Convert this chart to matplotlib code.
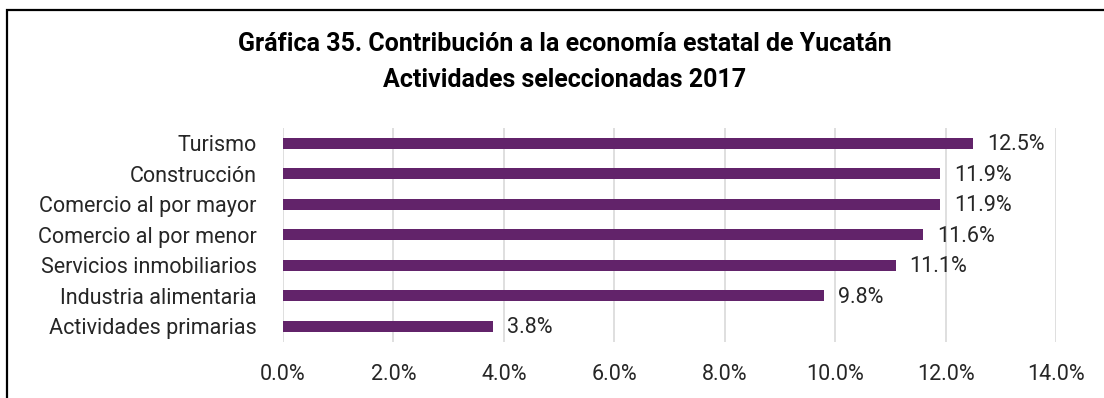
import matplotlib.pyplot as plt
from matplotlib.patches import Rectangle
from matplotlib.ticker import FuncFormatter

plt.rcParams['font.family'] = ['Roboto', 'DejaVu Sans']

actividades = ['Turismo', 'Construcción', 'Comercio al por mayor', 'Comercio al por menor',
               'Servicios inmobiliarios', 'Industria alimentaria', 'Actividades primarias']
contribucion = [12.5, 11.9, 11.9, 11.6, 11.1, 9.8, 3.8]
xticks = [0, 2, 4, 6, 8, 10, 12, 14]

purple = '#62236a'

fig = plt.figure(figsize=(11.04, 3.98), dpi=100)
# plot area in pixels: x 283..1056, y 128..341
ax = fig.add_axes([283 / 1104, 1 - 341.5 / 398, (1056 - 283) / 1104, (341.5 - 128) / 398])

pos = list(range(len(actividades)))
ax.barh(pos, contribucion, height=0.36, color=purple, zorder=3)
for p, v in zip(pos, contribucion):
    ax.text(v + 0.25, p + 0.05, f'{v:.1f}%', va='center', ha='left', fontsize=15.5, color='#262626')

ax.set_xlim(0, 14)
ax.set_ylim(len(actividades) - 0.5, -0.5)
ax.set_yticks(pos)
ax.set_yticklabels(actividades, fontsize=15.5, color='#262626')
ax.set_xticks(xticks)
ax.xaxis.set_major_formatter(FuncFormatter(lambda x, _: f'{x:.1f}%'))
ax.tick_params(axis='x', labelsize=15.5, colors='#262626', length=0, pad=16)
ax.tick_params(axis='y', length=0, pad=19)
ax.grid(axis='x', color='#d9d9d9', linewidth=1.2, zorder=0)
for s in ax.spines.values():
    s.set_visible(False)

fig.text(565 / 1104, 1 - 44 / 398, 'Gráfica 35. Contribución a la economía estatal de Yucatán',
         ha='center', va='center', fontsize=18, fontweight='bold')
fig.text(565 / 1104, 1 - 80 / 398, 'Actividades seleccionadas 2017',
         ha='center', va='center', fontsize=18, fontweight='bold')

# outer frame around the chart
fig.patches.append(Rectangle((7 / 1104, -0.05), 1.1, 1.05 - 10 / 398, transform=fig.transFigure,
                             fill=False, edgecolor='black', linewidth=1.6))

fig.savefig('out.png', dpi=100)
